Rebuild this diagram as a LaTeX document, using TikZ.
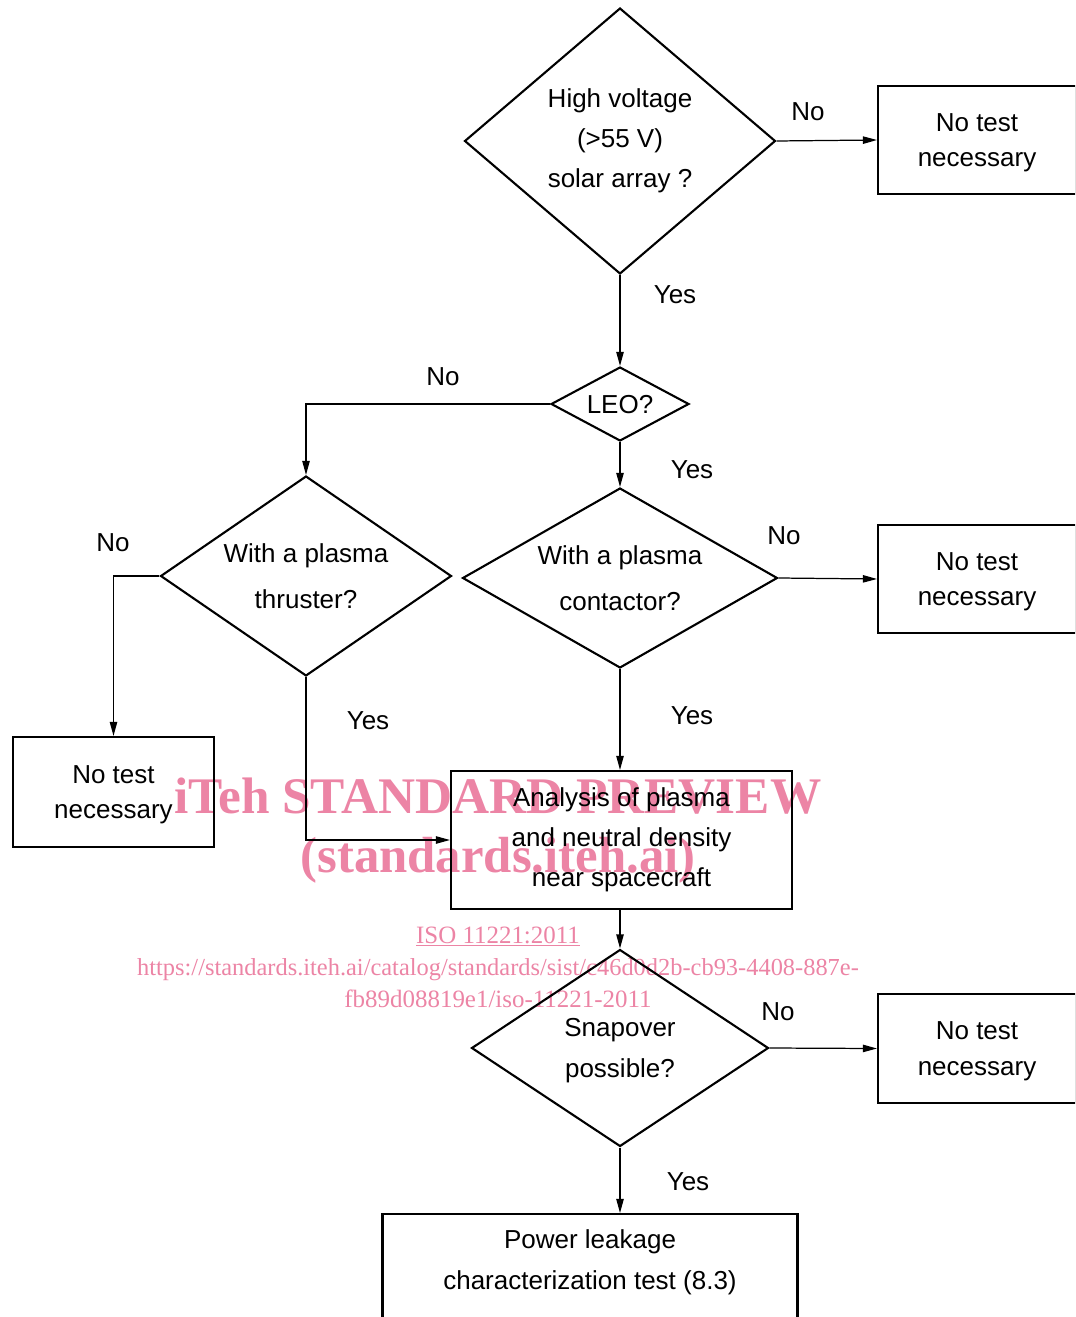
\documentclass[tikz,border=0pt]{standalone}
\usepackage{fontspec}
\setmainfont{Liberation Sans}
\newfontfamily\wmserif{Liberation Serif}
\usetikzlibrary{shapes.geometric}
\usetikzlibrary{arrows.meta}
\definecolor{wmpink}{RGB}{236,132,165}
\tikzset{
question/.style=
    { % Sets the properties for each diamond
        diamond,
        draw,
        line width=1.2pt,
        inner sep=0pt,
        align=center
    },
outcome/.style={ % Sets the properties for each box
        rectangle,
        draw,
        line width=1.2pt,
        align=center
    },
notest/.style={ % the "No test necessary" boxes
        outcome,
        minimum width=3.96cm,
        minimum height=2.16cm,
        text depth=-5pt,
        font=\fontsize{14.8}{20.4}\selectfont
    },
answer/.style={inner sep=0pt}, % Yes / No next to the lines
flow/.style={ % Sets the properties for each connector
        draw,
        line width=0.7pt,
        -{Triangle[length=8pt,width=4.2pt]}
    },
stamp/.style={text=wmpink, inner sep=0pt, anchor=base} % watermark text
}

\begin{document}
\begin{tikzpicture}[x=0.02cm,y=-0.02cm,font=\fontsize{14.8}{22.7}\selectfont]
\clip (0,0) rectangle (1075,1317);

% watermark
\node [stamp,font=\wmserif\bfseries\fontsize{29.2}{30}\selectfont] (wm1) at (498,813) {iTeh STANDARD PREVIEW};
\node [stamp,font=\wmserif\bfseries\fontsize{28.9}{30}\selectfont] (wm2) at (498,872) {(standards.iteh.ai)};
\node [stamp,font=\wmserif\fontsize{14.2}{16}\selectfont] (wm3) at (498,943) {\underline{ISO 11221:2011}};
\node [stamp,font=\wmserif\fontsize{13.9}{16}\selectfont] (wm4) at (498,975) {https://standards.iteh.ai/catalog/standards/sist/c46d0d2b-cb93-4408-887e-};
\node [stamp,font=\wmserif\fontsize{14.2}{16}\selectfont] (wm5) at (498,1007) {fb89d08819e1/iso-11221-2011};

% questions
\node [question,minimum width=6.22cm,minimum height=5.32cm,aspect=1.17] (hv) at (620,141) {High voltage\\(>55 V)\\solar array ?};
\node [question,minimum width=2.76cm,minimum height=1.48cm,aspect=1.86,text depth=-5.5pt] (leo) at (620,404) {LEO?};
\node [question,minimum width=5.82cm,minimum height=4cm,aspect=1.45,font=\fontsize{14.8}{26.1}\selectfont] (thr) at (306,576) {With a plasma\\thruster?};
\node [question,minimum width=6.3cm,minimum height=3.6cm,aspect=1.75,font=\fontsize{14.8}{26.1}\selectfont] (con) at (620,578) {With a plasma\\contactor?};
\node [question,minimum width=5.94cm,minimum height=3.94cm,aspect=1.51,text depth=-1.6pt,font=\fontsize{14.8}{23.2}\selectfont] (snap) at (620,1048) {Snapover\\possible?};

% outcomes
\node [notest] (nt1) at (977,140) {No test\\necessary};
\node [notest] (nt2) at (977,579) {No test\\necessary};
\node [notest,minimum width=4.02cm,minimum height=2.2cm] (nt3) at (113.5,792) {No test\\necessary};
\node [notest,minimum height=2.18cm] (nt4) at (977,1048.5) {No test\\necessary};
\node [outcome,minimum width=6.82cm,minimum height=2.76cm] (ana) at (621.5,840) {Analysis of plasma\\and neutral density\\near spacecraft};
\node [outcome,minimum width=8.3cm,minimum height=2.8cm,anchor=north] (pwr) at (590,1213) {};
\node [align=center,font=\fontsize{14.8}{23.2}\selectfont] (pwrtext) at (590,1262) {Power leakage\\characterization test (8.3)};

% connectors
\draw [flow] (hv.east) -- (nt1.west);
\draw [flow] (hv.south) -- (leo.north);
\draw [flow] (leo.west) -| (thr.north);
\draw [flow] (leo.south) -- (con.north);
\draw [flow] (con.east) -- (nt2.west);
\draw [flow] (thr.west) -| (nt3.north);
\draw [flow] (thr.south) |- (ana.west);
\draw [flow] (con.south) -- (con.south |- ana.north);
\draw [flow] (ana.south -| snap.north) -- (snap.north);
\draw [flow] (snap.east) -- (nt4.west);
\draw [flow] (snap.south) -- (snap.south |- pwr.north);

% answers
\node [answer] (a1) at (808,112) {No};
\node [answer] (a2) at (675,295) {Yes};
\node [answer] (a3) at (443,377) {No};
\node [answer] (a4) at (692,470) {Yes};
\node [answer] (a5) at (784,536) {No};
\node [answer] (a6) at (113,543) {No};
\node [answer] (a7) at (368,721) {Yes};
\node [answer] (a8) at (692,716) {Yes};
\node [answer] (a9) at (778,1012) {No};
\node [answer] (a10) at (688,1182) {Yes};
\end{tikzpicture}
\end{document}
